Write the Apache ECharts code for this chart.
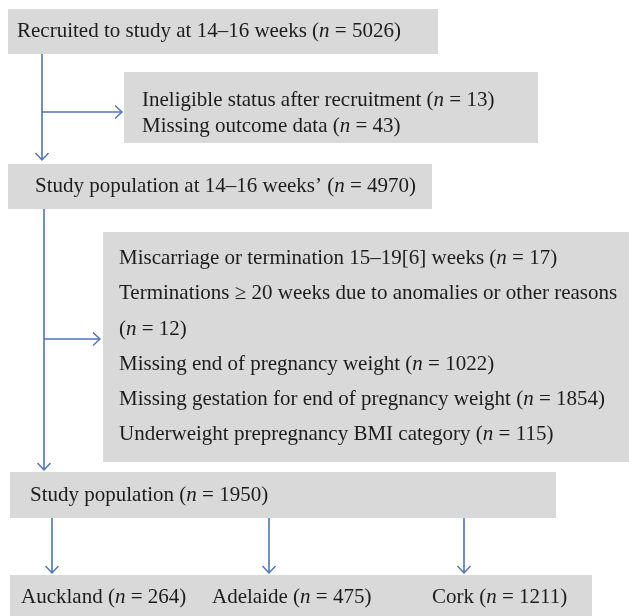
<!DOCTYPE html>
<html>
<head>
<meta charset="utf-8">
<script src="https://cdn.jsdelivr.net/npm/echarts@6/dist/echarts.min.js"></script>
<style>
html,body{margin:0;padding:0;background:#fff;}
#chart{width:629px;height:616px;}
</style>
</head>
<body>
<div id="chart"></div>
<script>
// ---- data ----
const stageLabels = ['Recruited to study at 14\u201316 weeks', 'Study population at 14\u201316 weeks\u2019', 'Study population'];
const stageN = [5026, 4970, 1950];
const exclusion1Labels = ['Ineligible status after recruitment', 'Missing outcome data'];
const exclusion1N = [13, 43];
const exclusion2Labels = ['Miscarriage or termination 15\u201319[6] weeks', 'Terminations \u2265 20 weeks due to anomalies or other reasons', 'Missing end of pregnancy weight', 'Missing gestation for end of pregnancy weight', 'Underweight prepregnancy BMI category'];
const exclusion2N = [17, 12, 1022, 1854, 115];
const siteLabels = ['Auckland', 'Adelaide', 'Cork'];
const siteN = [264, 475, 1211];

// ---- layout (pixel space of a hidden 629 x 616 grid) ----
const FONT = '"Liberation Serif", "Times New Roman", serif';
const FS = 21;
const BOX_FILL = '#d9d9d9';
const LINE_COLOR = '#4f73ae';

function nRich(label, n) {
  return (label ? '{r|' + label + ' (}' : '{r|(}') + '{i|n}{r| = ' + n + ')}';
}
const ex2Lines = [];
exclusion2Labels.forEach(function (l, i) {
  if (i === 1) { ex2Lines.push('{r|' + l + '}'); ex2Lines.push(nRich('', exclusion2N[i])); }
  else ex2Lines.push(nRich(l, exclusion2N[i]));
});

const boxes = [
  { x0: 8, x1: 438, y0: 9, y1: 54, texts: [[17, 31, nRich(stageLabels[0], stageN[0])]] },
  { x0: 124, x1: 538, y0: 72, y1: 143, texts: exclusion1Labels.map(function (l, i) { return [142, [100, 126][i], nRich(l, exclusion1N[i])]; }) },
  { x0: 8, x1: 432, y0: 164, y1: 209, texts: [[35, 186, nRich(stageLabels[1], stageN[1])]] },
  { x0: 103, x1: 629, y0: 232, y1: 462, texts: ex2Lines.map(function (t, i) { return [119, [258, 293, 329, 364, 399, 434][i], t]; }) },
  { x0: 10, x1: 556, y0: 472, y1: 518, texts: [[30, 495, nRich(stageLabels[2], stageN[2])]] },
  { x0: 10, x1: 592, y0: 575, y1: 616, texts: siteLabels.map(function (l, i) { return [[21, 212, 432][i], 597, nRich(l, siteN[i])]; }) }
];

const arrows = [
  { pts: [[42, 54], [42, 160]] },
  { pts: [[42, 112], [122, 112]] },
  { pts: [[44, 209], [44, 470]] },
  { pts: [[44, 339], [100, 339]] },
  { pts: [[52, 518], [52, 573]] },
  { pts: [[269, 518], [269, 573]] },
  { pts: [[464, 518], [464, 573]] }
];

const chart = echarts.init(document.getElementById('chart'), null, { renderer: 'canvas' });

const richStyle = {
  r: { fontFamily: FONT, fontSize: FS, fill: '#1e1b1c' },
  i: { fontFamily: FONT, fontSize: FS, fontStyle: 'italic', fill: '#1e1b1c' }
};

chart.setOption({
  animation: false,
  backgroundColor: '#ffffff',
  grid: { left: 0, right: 0, top: 0, bottom: 0 },
  xAxis: { type: 'value', min: 0, max: 629, show: false },
  yAxis: { type: 'value', min: 0, max: 616, inverse: true, show: false },
  series: [
    {
      type: 'custom',
      coordinateSystem: 'cartesian2d',
      data: boxes.map(function (b, i) { return [i]; }),
      renderItem: function (params, api) {
        const b = boxes[api.value(0)];
        const p0 = api.coord([b.x0, b.y0]);
        const p1 = api.coord([b.x1, b.y1]);
        const children = [{
          type: 'rect',
          shape: { x: p0[0], y: p0[1], width: p1[0] - p0[0], height: p1[1] - p0[1] },
          style: { fill: BOX_FILL }
        }];
        b.texts.forEach(function (t) {
          const p = api.coord([t[0], t[1]]);
          children.push({
            type: 'text',
            style: {
              x: p[0], y: p[1], text: t[2], rich: richStyle,
              fontFamily: FONT, fontSize: FS,
              align: 'left', verticalAlign: 'middle'
            }
          });
        });
        return { type: 'group', children: children };
      }
    },
    {
      type: 'custom',
      coordinateSystem: 'cartesian2d',
      data: arrows.map(function (a, i) { return [i]; }),
      renderItem: function (params, api) {
        const a = arrows[api.value(0)];
        const s = api.coord(a.pts[0]);
        const e = api.coord(a.pts[1]);
        const dx = e[0] - s[0], dy = e[1] - s[1];
        const len = Math.sqrt(dx * dx + dy * dy);
        const ux = dx / len, uy = dy / len;
        const back = 7, half = 6.5;
        const w1 = [e[0] - ux * back - uy * half, e[1] - uy * back + ux * half];
        const w2 = [e[0] - ux * back + uy * half, e[1] - uy * back - ux * half];
        return {
          type: 'group',
          children: [
            { type: 'line', shape: { x1: s[0], y1: s[1], x2: e[0], y2: e[1] }, style: { stroke: LINE_COLOR, lineWidth: 1.6 } },
            { type: 'polyline', shape: { points: [w1, e, w2] }, style: { stroke: LINE_COLOR, lineWidth: 1.4, fill: null } }
          ]
        };
      }
    }
  ]
});
</script>
</body>
</html>
